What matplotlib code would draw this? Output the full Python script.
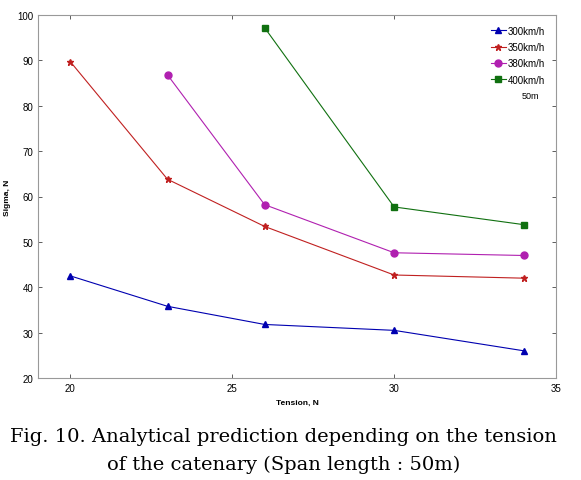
import matplotlib
matplotlib.use("Agg")
import matplotlib.pyplot as plt

# tension values (x) and sigma for each speed
tension = [20, 23, 26, 30, 34]
sigma_300 = [42.5, 35.8, 31.8, 30.5, 26.0]
sigma_350 = [89.7, 63.8, 53.4, 42.7, 42.0]
tension_380 = [23, 26, 30, 34]
sigma_380 = [86.8, 58.2, 47.6, 47.0]
tension_400 = [26, 30, 34]
sigma_400 = [97.2, 57.7, 53.8]

xticks = [20, 25, 30, 35]
yticks = [20, 30, 40, 50, 60, 70, 80, 90, 100]

plt.rcParams["font.family"] = ["Liberation Sans", "DejaVu Sans"]

fig = plt.figure(figsize=(5.81, 4.81), dpi=100)
ax = fig.add_axes([38 / 581, 1 - 379 / 481, 518 / 581, 363 / 481])

ax.plot(tension, sigma_300, color="#0000b0", lw=0.8, marker="^", ms=5, label="300km/h")
ax.plot(tension, sigma_350, color="#c02020", lw=0.8, marker="*", ms=5, label="350km/h")
ax.plot(tension_380, sigma_380, color="#b020b0", lw=0.8, marker="o", ms=5, label="380km/h")
ax.plot(tension_400, sigma_400, color="#107010", lw=0.8, marker="s", ms=4, label="400km/h")

ax.set_xlim(19, 35)
ax.set_ylim(20, 100)
ax.set_xticks(xticks)
ax.set_yticks(yticks)
ax.tick_params(direction="in", top=True, right=True, labelsize=7, length=3,
               color="#444444", width=0.6)
for s in ax.spines.values():
    s.set_color("#999999")
    s.set_linewidth(0.8)

ax.set_xlabel("Tension, N", fontsize=6, fontweight="bold", labelpad=4)
ax.set_ylabel("Sigma, N", fontsize=6, fontweight="bold", labelpad=4)

leg = ax.legend(loc="upper right", frameon=False, fontsize=7, handlelength=1.6,
                handletextpad=0.2, labelspacing=0.65, borderaxespad=0.7)
ax.text(0.968, 0.772, "50m", transform=ax.transAxes, fontsize=6.5, ha="right")

# caption below the plot
fig.text(0.488, 1 - 437 / 481, "Fig. 10. Analytical prediction depending on the tension",
         ha="center", va="center", fontsize=14, family="DejaVu Serif")
fig.text(0.488, 1 - 465 / 481, "of the catenary (Span length : 50m)",
         ha="center", va="center", fontsize=14, family="DejaVu Serif")

fig.savefig("out.png", dpi=100)
